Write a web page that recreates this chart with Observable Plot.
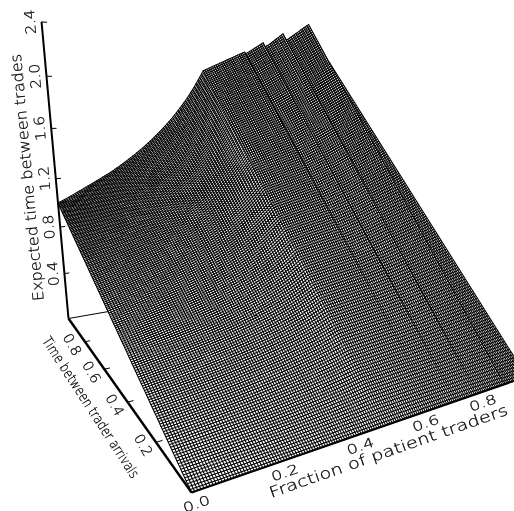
<!DOCTYPE html>
<html>
<head>
<meta charset="utf-8">
<style>html,body{margin:0;padding:0;background:#fff}svg{display:block}svg text{filter:grayscale(1)}</style>
<script src="https://cdn.jsdelivr.net/npm/d3@7"></script>
<script src="https://cdn.jsdelivr.net/npm/@observablehq/plot@0.6"></script>
</head>
<body>
<div id="chart"></div>
<script>
// Expected time between trades at the back edge of the surface (time between arrivals = 1),
// one estimate per wire along "fraction of patient traders", read along the top edge in the picture.
const backEdge = [
1.000,1.008,1.016,1.025,1.033,1.042,1.051,1.060,1.069,1.078,1.087,1.096,1.105,
1.114,1.123,1.132,1.141,1.150,1.160,1.169,1.178,1.188,1.197,1.207,1.216,1.226,1.236,
1.247,1.258,1.269,1.280,1.291,1.303,1.315,1.327,1.339,1.351,1.364,1.377,1.390,1.403,1.416,1.430,
1.444,1.458,1.473,1.488,1.503,1.518,1.534,1.550,1.566,1.583,1.600,1.617,
1.635,1.653,1.672,1.691,1.710,1.730,1.750,1.771,1.792,1.814,1.836,
1.860,1.884,1.909,1.935,1.961,1.988,2.015,2.043,2.070,
2.078,2.085,2.093,2.100,2.108,2.115,2.123,2.130,2.138,2.145,2.153,2.160,2.168,2.175,2.183,2.190,2.198,2.205,2.213,2.220,2.228,2.235,2.243,
2.232,2.240,2.250,2.260,2.270,2.281,2.291,2.301,2.311,2.321,2.332,
2.296,2.305,2.314,2.324,2.337,2.349,2.361,2.373,2.386,2.398,2.410,2.422,
2.362,2.368,2.376,2.387,2.398,2.410,2.421,2.432,2.443,2.454,2.466,2.477,2.488,2.499,2.510,2.521,
2.030,2.042,2.053,2.065,2.076,2.088,2.099,2.111,2.122,2.134,2.145,2.157,2.168,2.180];

const zTicks = [0.4,0.8,1.2,1.6,2.0,2.4];
const zLabels = ["0.4","0.8","1.2","1.6","2.0","2.4"];
const tTicks = [0.2,0.4,0.6,0.8];
const tLabels = ["0.2","0.4","0.6","0.8"];
const fTicks = [0,0.2,0.4,0.6,0.8];
const fLabels = ["0.0","0.2","0.4","0.6","0.8"];
const zMax = 2.4;

// perspective camera of the 3-D box (f, t, z)
function project(f, t, z) {
  const Z = z / zMax;
  const w = 1 + 0.4175*f + 0.622*t - 0.175*Z;
  return {
    px: (191 + 554.6*f - 80.7*t - 50.9*Z) / w,
    py: (492 + 41*f + 23.8*t - 484.8*Z) / w
  };
}

const n = backEdge.length - 1;
const node = (i, j) => project(i/n, j/n, (j/n) * backEdge[i]);
const gap = {px:NaN, py:NaN};
const mesh = [];
// hidden-line drawing: strips painted white from the far side, each with its wires on top
for (let i = n - 1; i >= -1; i--) {
  if (i >= 0) {
    for (const p of [node(i,0), node(i,n), node(i+1,n), node(i+1,0)])
      mesh.push({...p, id:"f"+i, fc:"white", sc:"none"});
    for (const p of [node(i+1,0), node(i+1,n)])
      mesh.push({...p, id:"w"+i, fc:"none", sc:"black"});
    for (let j = 0; j <= n; j++) {
      for (const p of [gap, node(i,j), node(i+1,j)])
        mesh.push({...p, id:"w"+i, fc:"none", sc:"black"});
    }
  } else {
    for (const p of [node(0,0), node(0,n)])
      mesh.push({...p, id:"w0end", fc:"none", sc:"black"});
  }
}

const seg = (a, b) => ({x1:a.px, y1:a.py, x2:b.px, y2:b.py});
const axes = [
  {...seg(project(0,0,0), project(1,0,0)), w:2.2},
  {...seg(project(0,0,0), project(0,1,0)), w:2.4},
  {...seg(project(0,1,0), project(0,1,zMax)), w:2},
];
const backLine = [seg(project(0,1,0), project(1,1,0))];
const ticks = [
  ...zTicks.map(z => seg(project(0,1,z), project(0.015,1,z))),
  ...tTicks.map(t => seg(project(0,t,0), project(0.015,t,0)))
];

const zRows = zTicks.map((z,i) => ({...project(0,1,z), s:zLabels[i]}));
const tRows = tTicks.map((t,i) => ({...project(0,t,0), s:tLabels[i]}));
const fRows = fTicks.map((f,i) => ({...project(f,-0.02,0), s:fLabels[i]}));

const font = "DejaVu Sans";
const textStyle = {fontFamily:font, fontWeight:200, fill:"black", stroke:"black", strokeWidth:0.25};
const plot = Plot.plot({
  width:514, height:511, margin:0,
  x:{domain:[0,514], range:[0,514], axis:null},
  y:{domain:[0,511], range:[0,511], axis:null},
  style:{background:"#fff"},
  marks:[
    Plot.link(backLine,{x1:"x1",y1:"y1",x2:"x2",y2:"y2",stroke:"black",strokeWidth:1}),
    Plot.line(mesh,{x:"px",y:"py",z:"id",fill:{value:"fc",scale:null},stroke:{value:"sc",scale:null},strokeWidth:1.05}),
    Plot.link(ticks,{x1:"x1",y1:"y1",x2:"x2",y2:"y2",stroke:"black",strokeWidth:1}),
    Plot.link(axes,{x1:"x1",y1:"y1",x2:"x2",y2:"y2",stroke:"black",strokeWidth:"w"}),
    Plot.text(zRows,{x:"px",y:"py",text:"s",dx:-11,rotate:-95,fontSize:14,...textStyle}),
    Plot.text(tRows,{x:"px",y:"py",text:"s",dx:-13,dy:3,rotate:60,fontSize:14,...textStyle}),
    Plot.text(fRows,{x:"px",y:"py",text:"s",dx:1,dy:6,rotate:-19,fontSize:13,...textStyle}),
    Plot.text(["Expected time between trades"],{x:()=>27,y:()=>177,text:d=>d,rotate:-95.3,fontSize:15,...textStyle}),
    Plot.text(["Time between trader arrivals"],{x:()=>90,y:()=>407,text:d=>d,rotate:57,fontSize:14,...textStyle}),
    Plot.text(["Fraction of patient traders"],{x:()=>388,y:()=>451,text:d=>d,rotate:-19.4,fontSize:15,...textStyle})
  ]
});
// foreshortening of the projected lettering, one length per text mark in drawing order
const lengths = [25, 23, 28, 248, 165, 252];
plot.querySelectorAll('g[aria-label="text"]').forEach((g, i) => {
  g.querySelectorAll("text").forEach(el => {
    el.setAttribute("textLength", lengths[i]);
    el.setAttribute("lengthAdjust", "spacingAndGlyphs");
  });
});
document.getElementById("chart").appendChild(plot);
</script>
</body>
</html>
